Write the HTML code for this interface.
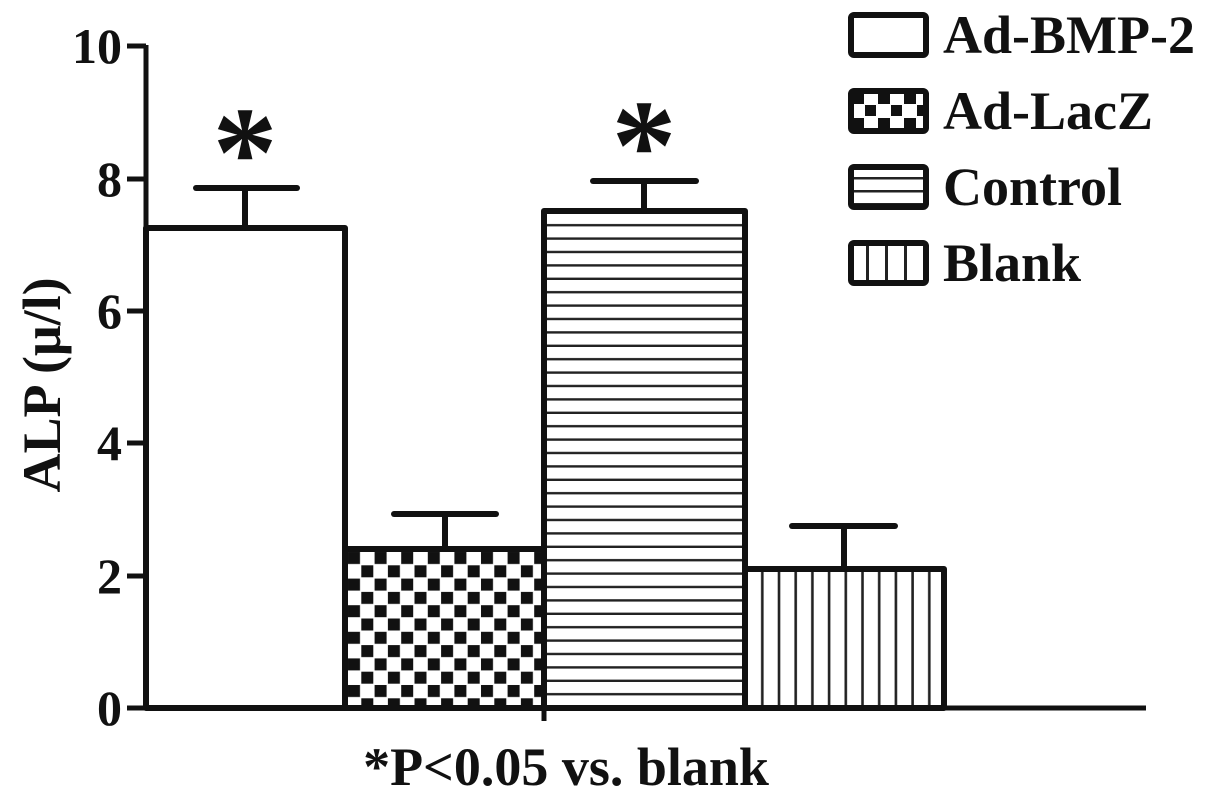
<!DOCTYPE html>
<html><head><style>html,body{margin:0;padding:0;background:#fff;width:1205px;height:795px;overflow:hidden}</style></head>
<body>
<svg width="1205" height="795" viewBox="0 0 1205 795" xmlns="http://www.w3.org/2000/svg" font-family="'Liberation Serif', serif" font-weight="bold">
<defs>
<pattern id="chk" x="347" y="551" width="26.6" height="26.6" patternUnits="userSpaceOnUse">
<rect x="1" y="1" width="12" height="12" fill="#111"/>
<rect x="14.3" y="14.3" width="12" height="12" fill="#111"/>
</pattern>
<pattern id="hor" x="0" y="213" width="10" height="13.4" patternUnits="userSpaceOnUse">
<rect x="0" y="11" width="10" height="2.4" fill="#222"/>
</pattern>
<pattern id="ver" x="747" y="0" width="16.7" height="10" patternUnits="userSpaceOnUse">
<rect x="14" y="0" width="2.6" height="10" fill="#222"/>
</pattern>
<pattern id="lchk" x="850" y="90" width="26" height="26" patternUnits="userSpaceOnUse">
<rect x="2" y="2" width="12" height="12" fill="#111"/>
<rect x="15" y="15" width="12" height="12" fill="#111"/>
</pattern>
<pattern id="lhor" x="0" y="167" width="10" height="13" patternUnits="userSpaceOnUse">
<rect x="0" y="10" width="10" height="2.5" fill="#222"/>
</pattern>
<pattern id="lver" x="850" y="0" width="19" height="10" patternUnits="userSpaceOnUse">
<rect x="16" y="0" width="3" height="10" fill="#222"/>
</pattern>
</defs>
<g stroke="#111" stroke-width="6" stroke-linejoin="round">
<rect x="146" y="228" width="199" height="480" fill="#fff"/>
<rect x="345" y="549" width="199" height="159" fill="url(#chk)"/>
<rect x="544" y="211" width="201" height="497" fill="url(#hor)"/>
<rect x="745" y="569" width="199" height="139" fill="url(#ver)"/>
</g>
<g stroke="#111" stroke-width="6" stroke-linecap="round">
<line x1="245" y1="188" x2="245" y2="228"/><line x1="196" y1="188" x2="297" y2="188"/>
<line x1="445" y1="514" x2="445" y2="549"/><line x1="394" y1="514" x2="496" y2="514"/>
<line x1="644" y1="181" x2="644" y2="211"/><line x1="593" y1="181" x2="696" y2="181"/>
<line x1="844" y1="526" x2="844" y2="569"/><line x1="792" y1="526" x2="895" y2="526"/>
</g>
<g stroke="#111" stroke-width="5">
<line x1="146" y1="45" x2="146" y2="710"/>
<line x1="144" y1="708" x2="1146" y2="708"/>
<line x1="544" y1="708" x2="544" y2="721"/>
<line x1="127" y1="46" x2="146" y2="46"/>
<line x1="127" y1="179" x2="146" y2="179"/>
<line x1="127" y1="311" x2="146" y2="311"/>
<line x1="127" y1="443" x2="146" y2="443"/>
<line x1="127" y1="576" x2="146" y2="576"/>
<line x1="127" y1="708" x2="146" y2="708"/>
</g>
<g font-size="50" text-anchor="end" fill="#111">
<text x="122" y="63">10</text>
<text x="122" y="196">8</text>
<text x="122" y="328">6</text>
<text x="122" y="460">4</text>
<text x="122" y="593">2</text>
<text x="122" y="725">0</text>
</g>
<text transform="translate(60,385) rotate(-90)" font-size="54" text-anchor="middle" fill="#111">ALP (μ/l)</text>
<text x="566" y="785" font-size="54" text-anchor="middle" fill="#111">*P&lt;0.05 vs. blank</text>
<g font-size="130" text-anchor="middle" fill="#111">
<text x="245" y="196">*</text>
<text x="644" y="189">*</text>
</g>
<g stroke="#111" stroke-width="6">
<rect x="851" y="15" width="75" height="40" rx="3" fill="#fff"/>
<rect x="851" y="91" width="75" height="40" rx="3" fill="url(#lchk)"/>
<rect x="851" y="167" width="75" height="40" rx="3" fill="url(#lhor)"/>
<rect x="851" y="243" width="75" height="40" rx="3" fill="url(#lver)"/>
</g>
<g font-size="54" fill="#111">
<text x="943" y="53">Ad-BMP-2</text>
<text x="943" y="129">Ad-LacZ</text>
<text x="943" y="205">Control</text>
<text x="943" y="281">Blank</text>
</g>
</svg>
</body></html>
